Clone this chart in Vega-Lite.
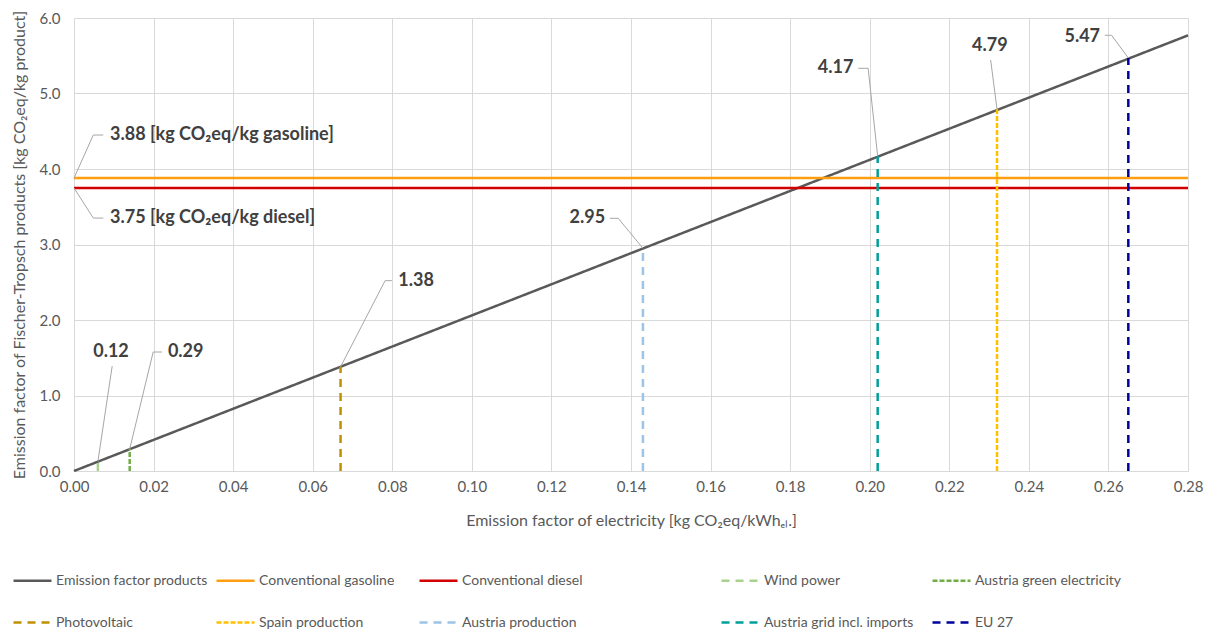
{
  "$schema": "https://vega.github.io/schema/vega-lite/v6.json",
  "width": 1114,
  "height": 453,
  "autosize": {"type": "none"},
  "padding": {"left": 74, "top": 18, "right": 24, "bottom": 162},
  "background": "white",
  "config": {
    "font": "Lato",
    "view": {"stroke": null},
    "axis": {
      "grid": true,
      "gridColor": "#D9D9D9",
      "gridWidth": 1,
      "domain": false,
      "ticks": false,
      "labelFlush": false,
      "labelColor": "#595959",
      "labelFont": "Lato",
      "labelFontSize": 15,
      "titleColor": "#595959",
      "titleFont": "Lato",
      "titleFontSize": 16,
      "titleFontWeight": "normal"
    },
    "legend": {
      "labelFont": "Lato",
      "labelFontSize": 14,
      "labelColor": "#595959",
      "symbolType": "stroke",
      "symbolSize": 1444,
      "symbolStrokeWidth": 2.5,
      "labelOffset": 3,
      "padding": 0,
      "title": null
    }
  },
  "datasets": {
    "linesA": [
      {"series": "Emission factor products", "x": 0, "y": 0, "x2": 0.28, "y2": 5.77},
      {"series": "Conventional gasoline", "x": 0, "y": 3.88, "x2": 0.28, "y2": 3.88},
      {"series": "Conventional diesel", "x": 0, "y": 3.75, "x2": 0.28, "y2": 3.75},
      {"series": "Photovoltaic", "x": 0.067, "y": 0, "x2": 0.067, "y2": 1.38},
      {"series": "Spain production", "x": 0.232, "y": 0, "x2": 0.232, "y2": 4.79},
      {"series": "Austria production", "x": 0.143, "y": 0, "x2": 0.143, "y2": 2.95}
    ],
    "linesB": [
      {"series": "Wind power", "x": 0.006, "y": 0, "x2": 0.006, "y2": 0.12},
      {"series": "Austria green electricity", "x": 0.014, "y": 0, "x2": 0.014, "y2": 0.29},
      {"series": "Austria grid incl. imports", "x": 0.202, "y": 0, "x2": 0.202, "y2": 4.17},
      {"series": "EU 27", "x": 0.265, "y": 0, "x2": 0.265, "y2": 5.47}
    ],
    "leaders": [
      {"x": 0.006, "y": 0.124, "x2": 0.0096, "y2": 1.39},
      {"x": 0.014, "y": 0.29, "x2": 0.0199, "y2": 1.576},
      {"x": 0.0199, "y": 1.576, "x2": 0.0221, "y2": 1.576},
      {"x": 0.067, "y": 1.38, "x2": 0.0782, "y2": 2.521},
      {"x": 0.0782, "y": 2.521, "x2": 0.0799, "y2": 2.521},
      {"x": 0.143, "y": 2.95, "x2": 0.1368, "y2": 3.347},
      {"x": 0.1368, "y": 3.347, "x2": 0.1347, "y2": 3.347},
      {"x": 0.202, "y": 4.17, "x2": 0.1996, "y2": 5.334},
      {"x": 0.1996, "y": 5.334, "x2": 0.1971, "y2": 5.334},
      {"x": 0.232, "y": 4.79, "x2": 0.2304, "y2": 5.444},
      {"x": 0.265, "y": 5.47, "x2": 0.2608, "y2": 5.771},
      {"x": 0.2608, "y": 5.771, "x2": 0.2591, "y2": 5.771},
      {"x": 0, "y": 3.88, "x2": 0.00485, "y2": 4.45},
      {"x": 0.00485, "y": 4.45, "x2": 0.00736, "y2": 4.45},
      {"x": 0, "y": 3.75, "x2": 0.00485, "y2": 3.35},
      {"x": 0.00485, "y": 3.35, "x2": 0.00736, "y2": 3.35}
    ],
    "labelsLeft": [
      {"label": "0.29", "x": 0.0236, "y": 1.576},
      {"label": "1.38", "x": 0.0815, "y": 2.521},
      {"label": "3.88 [kg CO₂eq/kg gasoline]", "x": 0.00905, "y": 4.45},
      {"label": "3.75 [kg CO₂eq/kg diesel]", "x": 0.00905, "y": 3.35}
    ],
    "labelsCenter": [
      {"label": "0.12", "x": 0.0093, "y": 1.576},
      {"label": "4.79", "x": 0.2302, "y": 5.633}
    ],
    "labelsRight": [
      {"label": "2.95", "x": 0.1335, "y": 3.347},
      {"label": "4.17", "x": 0.1959, "y": 5.334},
      {"label": "5.47", "x": 0.2579, "y": 5.752}
    ]
  },
  "encoding": {
    "x": {
      "field": "x",
      "type": "quantitative",
      "scale": {"domain": [0, 0.28], "nice": false, "zero": false},
      "axis": {
        "title": "Emission factor of electricity [kg CO₂eq/kWhₑₗ.]",
        "format": ".2f",
        "values": [0, 0.02, 0.04, 0.06, 0.08, 0.1, 0.12, 0.14, 0.16, 0.18, 0.2, 0.22, 0.24, 0.26, 0.28],
        "labelPadding": 8,
        "titlePadding": 18
      }
    },
    "y": {
      "field": "y",
      "type": "quantitative",
      "scale": {"domain": [0, 6], "nice": false},
      "axis": {
        "title": "Emission factor of Fischer-Tropsch products [kg CO₂eq/kg product]",
        "format": ".1f",
        "values": [0, 1, 2, 3, 4, 5, 6],
        "labelPadding": 14,
        "titlePadding": 12
      }
    }
  },
  "layer": [
    {
      "data": {"name": "linesA"},
      "mark": {"type": "rule", "strokeWidth": 2.5},
      "encoding": {
        "x2": {"field": "x2"},
        "y2": {"field": "y2"},
        "color": {
          "field": "series",
          "type": "nominal",
          "scale": {
            "domain": ["Emission factor products", "Conventional gasoline", "Conventional diesel", "Photovoltaic", "Spain production", "Austria production"],
            "range": ["#595959", "#FF9E10", "#D40000", "#BF9000", "#FFC000", "#9DC3E6"]
          },
          "legend": {
            "orient": "none",
            "legendX": -62,
            "legendY": 542,
            "columns": 3,
            "direction": "horizontal",
            "gridAlign": "all",
            "columnPadding": 3,
            "rowPadding": 14
          }
        },
        "strokeDash": {
          "field": "series",
          "type": "nominal",
          "scale": {
            "domain": ["Emission factor products", "Conventional gasoline", "Conventional diesel", "Photovoltaic", "Spain production", "Austria production"],
            "range": [[1, 0], [1, 0], [1, 0], [8, 6], [5, 2], [8, 6]]
          },
          "legend": {
            "orient": "none",
            "legendX": -62,
            "legendY": 542,
            "columns": 3,
            "direction": "horizontal",
            "gridAlign": "all",
            "columnPadding": 3,
            "rowPadding": 14
          }
        }
      }
    },
    {
      "data": {"name": "linesB"},
      "mark": {"type": "rule", "strokeWidth": 2.5},
      "encoding": {
        "x2": {"field": "x2"},
        "y2": {"field": "y2"},
        "color": {
          "field": "series",
          "type": "nominal",
          "scale": {
            "domain": ["Wind power", "Austria green electricity", "Austria grid incl. imports", "EU 27"],
            "range": ["#A9D18E", "#70AD47", "#00A09A", "#00009C"]
          },
          "legend": {
            "orient": "none",
            "legendX": 646,
            "legendY": 542,
            "columns": 2,
            "direction": "horizontal",
            "gridAlign": "all",
            "columnPadding": 13,
            "rowPadding": 14
          }
        },
        "strokeDash": {
          "field": "series",
          "type": "nominal",
          "scale": {
            "domain": ["Wind power", "Austria green electricity", "Austria grid incl. imports", "EU 27"],
            "range": [[8, 6], [5, 2], [8, 6], [8, 6]]
          },
          "legend": {
            "orient": "none",
            "legendX": 646,
            "legendY": 542,
            "columns": 2,
            "direction": "horizontal",
            "gridAlign": "all",
            "columnPadding": 13,
            "rowPadding": 14
          }
        }
      }
    },
    {
      "data": {"name": "leaders"},
      "mark": {"type": "rule", "strokeWidth": 1, "color": "#A6A6A6"},
      "encoding": {
        "x2": {"field": "x2"},
        "y2": {"field": "y2"}
      }
    },
    {
      "data": {"name": "labelsLeft"},
      "mark": {"type": "text", "align": "left", "baseline": "middle", "font": "Lato", "fontSize": 18, "fontWeight": "bold", "color": "#404040"},
      "encoding": {"text": {"field": "label"}}
    },
    {
      "data": {"name": "labelsCenter"},
      "mark": {"type": "text", "align": "center", "baseline": "middle", "font": "Lato", "fontSize": 18, "fontWeight": "bold", "color": "#404040"},
      "encoding": {"text": {"field": "label"}}
    },
    {
      "data": {"name": "labelsRight"},
      "mark": {"type": "text", "align": "right", "baseline": "middle", "font": "Lato", "fontSize": 18, "fontWeight": "bold", "color": "#404040"},
      "encoding": {"text": {"field": "label"}}
    }
  ],
  "resolve": {"scale": {"color": "independent", "strokeDash": "independent"}}
}
